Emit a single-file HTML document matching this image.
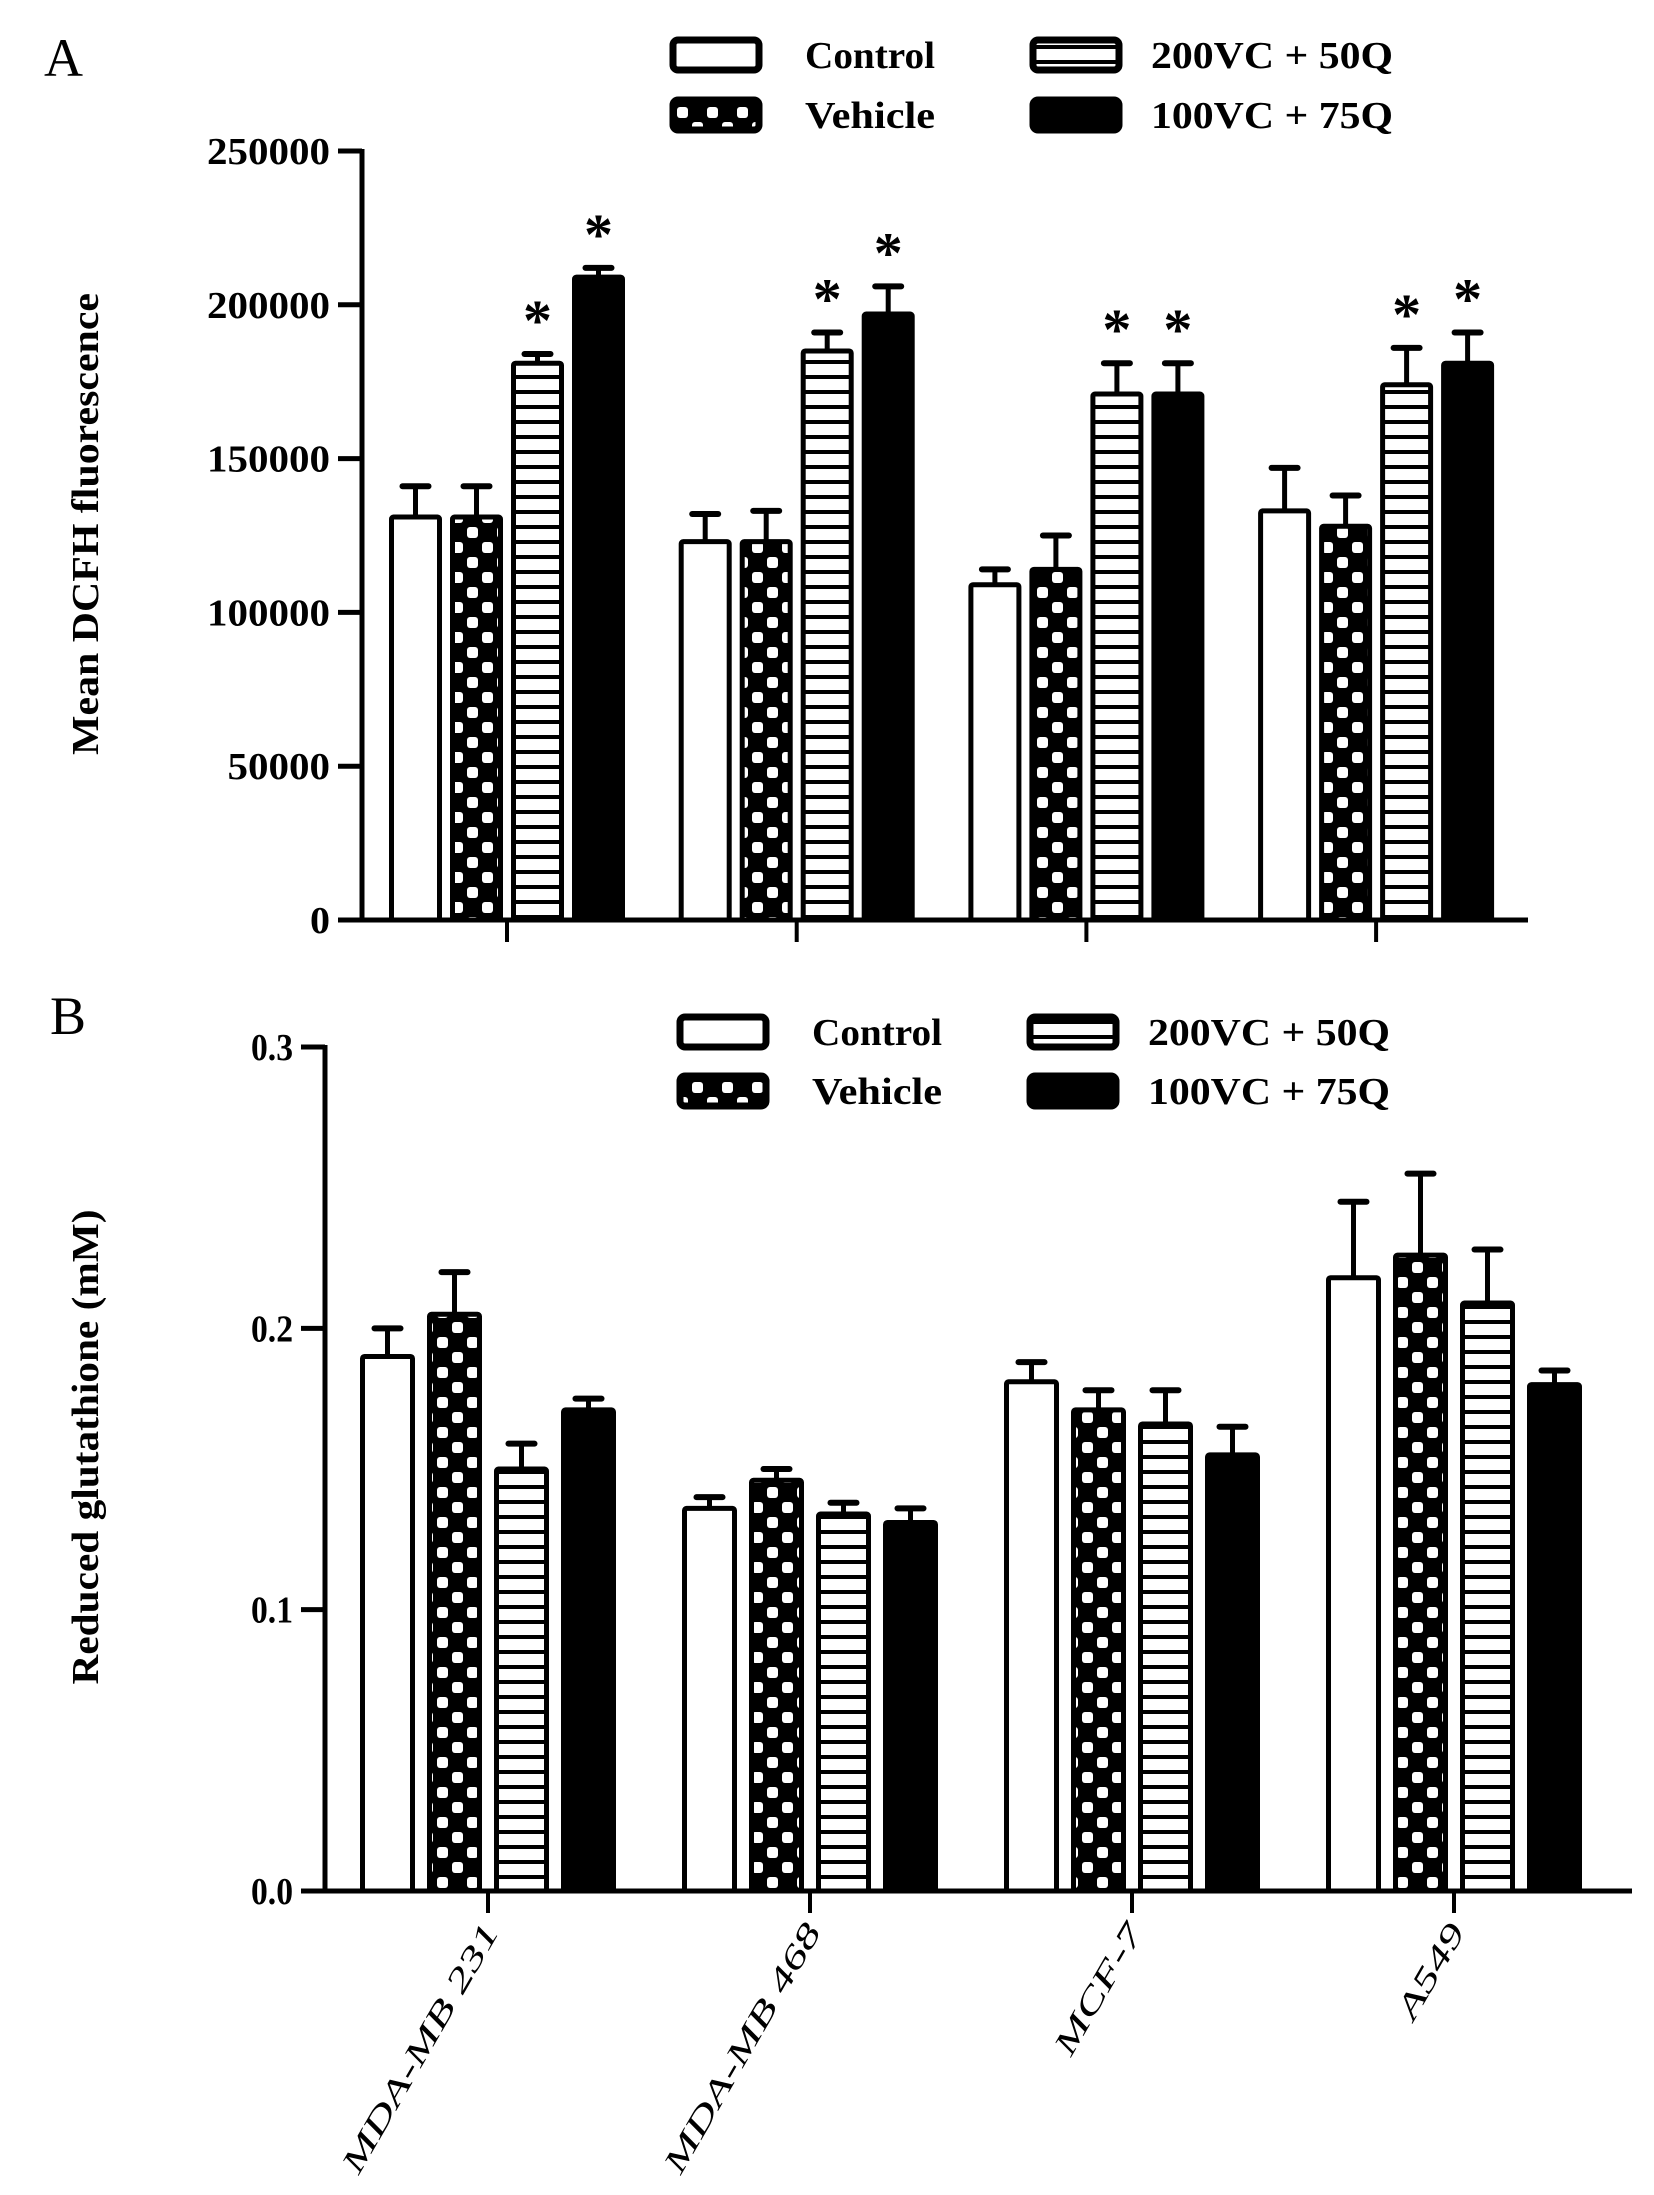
<!DOCTYPE html>
<html><head><meta charset="utf-8"><style>
html,body{margin:0;padding:0;background:#fff}
svg{display:block}
text{font-family:"Liberation Serif",serif;fill:#000}
</style></head><body>
<svg id="chart" width="1654" height="2195" viewBox="0 0 1654 2195" xmlns="http://www.w3.org/2000/svg">
<defs>
<pattern id="checker" patternUnits="userSpaceOnUse" width="30" height="30">
<rect width="30" height="30" fill="#000"/>
<rect x="2" y="2" width="11" height="11" rx="3" fill="#fff"/>
<rect x="17" y="17" width="11" height="11" rx="3" fill="#fff"/>
</pattern>
<pattern id="stripes" patternUnits="userSpaceOnUse" width="20" height="15">
<rect width="20" height="15" fill="#fff"/>
<rect y="0" width="20" height="4" fill="#000"/>
</pattern>
</defs>
<g id="panelA"></g>
<g id="panelB"></g>
</svg>
<script>
const categories = ["MDA-MB 231","MDA-MB 468","MCF-7","A549"];
const seriesNames = ["Control","Vehicle","200VC + 50Q","100VC + 75Q"];
const dcfhControl = [131000,123000,109000,133000];
const dcfhVehicle = [131000,123000,114000,128000];
const dcfh200 = [181000,185000,171000,174000];
const dcfh100 = [209000,197000,171000,181000];
const dcfhErrControl = [10000,9000,5000,14000];
const dcfhErrVehicle = [10000,10000,11000,10000];
const dcfhErr200 = [3000,6000,10000,12000];
const dcfhErr100 = [3000,9000,10000,10000];
const dcfhStar200 = [true,true,true,true];
const dcfhStar100 = [true,true,true,true];
const dcfhTicks = [0,50000,100000,150000,200000,250000];
const gshControl = [0.190,0.136,0.181,0.218];
const gshVehicle = [0.205,0.146,0.171,0.226];
const gsh200 = [0.150,0.134,0.166,0.209];
const gsh100 = [0.171,0.131,0.155,0.180];
const gshErrControl = [0.010,0.004,0.007,0.027];
const gshErrVehicle = [0.015,0.004,0.007,0.029];
const gshErr200 = [0.009,0.004,0.012,0.019];
const gshErr100 = [0.004,0.005,0.010,0.005];
const gshTicks = ["0.0","0.1","0.2","0.3"];

const NS="http://www.w3.org/2000/svg";
const fills=["#fff","url(#checker)","url(#stripes)","#000"];
function mk(parent,tag,attrs,txt){const e=document.createElementNS(NS,tag);for(const k in attrs)e.setAttribute(k,attrs[k]);if(txt!==undefined)e.textContent=txt;parent.appendChild(e);return e;}

function drawPanel(g,cfg){
  const yS=v=>cfg.y0-(v/cfg.ymax)*(cfg.y0-cfg.yTop);
  const xS=(gi,si)=>cfg.g0+gi*cfg.gStep+(si-1.5)*cfg.pitch;
  cfg.series.forEach((vals,si)=>{
    vals.forEach((v,gi)=>{
      const cx=xS(gi,si), top=yS(v), et=yS(v+cfg.errs[si][gi]);
      const eb=mk(g,'line',{x1:cx,x2:cx,y1:top,y2:et,stroke:'#000','stroke-width':5});
      
      
      const cap=mk(g,'line',{x1:cx-13,x2:cx+13,y1:et,y2:et,stroke:'#000','stroke-width':6,'stroke-linecap':'round'});
      
      
      const r=mk(g,'rect',{x:cx-cfg.bw/2,y:top,width:cfg.bw,height:cfg.y0-top,fill:fills[si],stroke:'#000','stroke-width':5,rx:2});
      
      
      if(cfg.stars && cfg.stars[si] && cfg.stars[si][gi]){
        const s=mk(g,'text',{x:cx,y:et-14,'text-anchor':'middle','font-size':58,'font-family':'Liberation Sans, sans-serif','font-weight':'bold'},'*');
        
        
      }
    });
  });
  const ya=mk(g,'line',{x1:cfg.ax,x2:cfg.ax,y1:cfg.yTop-2,y2:cfg.y0+2,stroke:'#000','stroke-width':5});
  
  
  const xa=mk(g,'line',{x1:cfg.ax-24,x2:cfg.xEnd,y1:cfg.y0,y2:cfg.y0,stroke:'#000','stroke-width':5});
  
  
  cfg.ticks.forEach(t=>{
    const v=parseFloat(t), y=yS(v);
    const tl=mk(g,'line',{x1:cfg.ax-24,x2:cfg.ax,y1:y,y2:y,stroke:'#000','stroke-width':5});
    
    
    const s=String(t);
    const tw=s.length===1?20:s.length*(s.length>3?20.5:14);
    const tt=mk(g,'text',{x:cfg.ax-32,y:y+13,'text-anchor':'end','font-size':38,'font-weight':'bold',textLength:tw,lengthAdjust:'spacingAndGlyphs'},s);
    
    
  });
  categories.forEach((c,gi)=>{
    const x=cfg.g0+gi*cfg.gStep;
    const tk=mk(g,'line',{x1:x,x2:x,y1:cfg.y0,y2:cfg.y0+22,stroke:'#000','stroke-width':4});
    
    
    if(cfg.labels){
      const lx=x+12, ly=cfg.y0+40;
      const lt=mk(g,'text',{x:lx,y:ly,'text-anchor':'end','font-size':32,'font-style':'italic',transform:`rotate(-60 ${lx} ${ly})`},c);
      
      
      const w=lt.getComputedTextLength();
      lt.setAttribute('textLength',w*1.55);
      lt.setAttribute('lengthAdjust','spacingAndGlyphs');
    }
  });
  const yt=mk(g,'text',{x:cfg.titleX,y:cfg.titleY,'text-anchor':'middle','font-size':38,'font-weight':'bold',textLength:cfg.titleLen,lengthAdjust:'spacingAndGlyphs',transform:`rotate(-90 ${cfg.titleX} ${cfg.titleY})`},cfg.title);
  
  
  const pl=mk(g,'text',{x:cfg.letterX,y:cfg.letterY,'font-size':54},cfg.letter);
  
  
  const lg=mk(g,'g',{});
  
  
  seriesNames.forEach((n,si)=>{
    const col=si<2?0:1,row=si%2;
    const bx=cfg.legX[col], by=cfg.legY[row];
    const e=mk(lg,'g',{});
    
    
    mk(e,'rect',{x:bx,y:by,width:86,height:30,rx:5,fill:si==2?'url(#stripes)':fills[si],stroke:'#000','stroke-width':7});
    mk(e,'text',{x:bx+(col?118:132),y:by+28,'font-size':38,'font-weight':'bold',textLength:col?242:130,lengthAdjust:'spacingAndGlyphs'},n);
  });
}

drawPanel(document.getElementById('panelA'),{
  id:'a',y0:920,yTop:151,ymax:250000,ax:362,xEnd:1528,g0:507,gStep:289.7,pitch:61,bw:48,
  series:[dcfhControl,dcfhVehicle,dcfh200,dcfh100],
  errs:[dcfhErrControl,dcfhErrVehicle,dcfhErr200,dcfhErr100],
  stars:[null,null,dcfhStar200,dcfhStar100],
  ticks:dcfhTicks,labels:false,title:'Mean DCFH fluorescence',titleX:98,titleY:524,titleLen:462,
  letter:'A',letterX:44,letterY:76,legX:[673,1033],legY:[40,100]
});
drawPanel(document.getElementById('panelB'),{
  id:'b',y0:1891,yTop:1047,ymax:0.3,ax:325,xEnd:1632,g0:488,gStep:322,pitch:67,bw:50,
  series:[gshControl,gshVehicle,gsh200,gsh100],
  errs:[gshErrControl,gshErrVehicle,gshErr200,gshErr100],
  stars:null,
  ticks:gshTicks,labels:true,title:'Reduced glutathione (mM)',titleX:98,titleY:1447,titleLen:475,
  letter:'B',letterX:50,letterY:1034,legX:[680,1030],legY:[1017,1076]
});
</script>
</body></html>
